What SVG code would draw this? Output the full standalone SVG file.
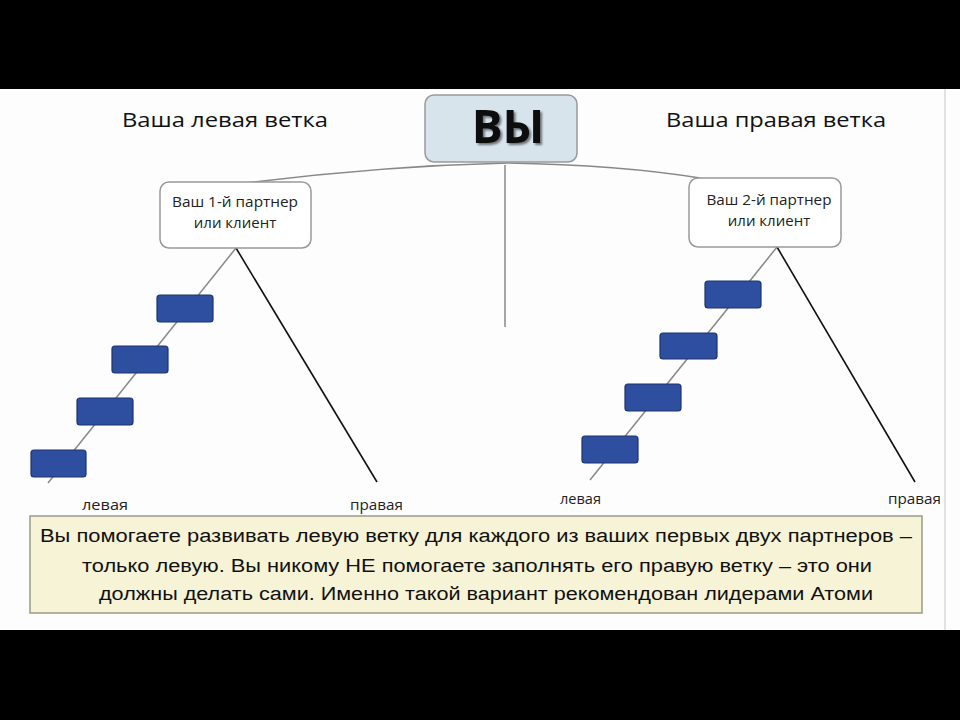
<svg xmlns="http://www.w3.org/2000/svg" width="960" height="720" viewBox="0 0 960 720">
<defs>
<filter id="sh" x="-10%" y="-10%" width="130%" height="130%"><feGaussianBlur in="SourceAlpha" stdDeviation="1.2"/><feOffset dx="2" dy="2"/><feComponentTransfer><feFuncA type="linear" slope="0.5"/></feComponentTransfer><feMerge><feMergeNode/><feMergeNode in="SourceGraphic"/></feMerge></filter>
</defs>
<style>
.t{font-family:"Open Sans","Liberation Sans",sans-serif;fill:#111}
.title{font-size:20px}
.ptxt{font-size:15px;fill:#222}
.lbl{font-size:14px;fill:#222}
.note{font-family:"Liberation Sans Narrow","Liberation Sans",sans-serif;font-size:18px;fill:#111}
.pbox{fill:#fff;stroke:#999;stroke-width:1.5}
.blue{fill:#2e4f9f;stroke:#1c336e;stroke-width:1.2}
.gl{stroke:#888;stroke-width:1.5;fill:none}
.bl{stroke:#111;stroke-width:1.6;fill:none}
</style>
<rect x="0" y="0" width="960" height="720" fill="#000"/>
<rect x="0" y="89" width="960" height="541" fill="#fdfdfd"/>
<line x1="945" y1="89" x2="945" y2="630" stroke="#e2e2e2" stroke-width="2"/>

<g id="connectors">
<path class="gl" d="M247,183 Q380,166 508,163 Q620,165 700,178"/>
<line class="gl" x1="505" y1="165" x2="505" y2="327"/>
<line class="gl" x1="236" y1="248" x2="48" y2="483"/>
<line class="bl" x1="236" y1="248" x2="377" y2="482"/>
<line class="gl" x1="777" y1="247" x2="590" y2="480"/>
<line class="bl" x1="777" y1="247" x2="915" y2="482"/>
</g>

<g id="you">
<rect x="425" y="95" width="152" height="67" rx="9" fill="#d8e4ec" stroke="#999" stroke-width="1.5"/>
<text class="t" x="508" y="143" text-anchor="middle" font-size="46" font-weight="bold" fill="#222" filter="url(#sh)">ВЫ</text>
</g>

<g id="title-left"><text class="t title" x="122" y="127" textLength="206" lengthAdjust="spacingAndGlyphs">Ваша левая ветка</text></g>
<g id="title-right"><text class="t title" x="666" y="127" textLength="220" lengthAdjust="spacingAndGlyphs">Ваша правая ветка</text></g>

<g id="partner1">
<rect class="pbox" x="160" y="182" width="151" height="66" rx="9"/>
<text class="t ptxt" x="235" y="207" text-anchor="middle" textLength="126" lengthAdjust="spacingAndGlyphs">Ваш 1-й партнер</text>
<text class="t ptxt" x="235" y="228" text-anchor="middle">или клиент</text>
</g>
<g id="partner2">
<rect class="pbox" x="689" y="178" width="152" height="69" rx="9"/>
<text class="t ptxt" x="769" y="205" text-anchor="middle" textLength="125" lengthAdjust="spacingAndGlyphs">Ваш 2-й партнер</text>
<text class="t ptxt" x="769" y="226" text-anchor="middle">или клиент</text>
</g>

<g id="l1"><rect class="blue" x="157" y="295" width="56" height="27" rx="3"/></g>
<g id="l2"><rect class="blue" x="112" y="346" width="56" height="27" rx="3"/></g>
<g id="l3"><rect class="blue" x="77" y="398" width="56" height="27" rx="3"/></g>
<g id="l4"><rect class="blue" x="31" y="450" width="55" height="27" rx="3"/></g>
<g id="r1"><rect class="blue" x="705" y="281" width="56" height="27" rx="3"/></g>
<g id="r2"><rect class="blue" x="660" y="333" width="57" height="26" rx="3"/></g>
<g id="r3"><rect class="blue" x="625" y="384" width="56" height="27" rx="3"/></g>
<g id="r4"><rect class="blue" x="582" y="436" width="56" height="27" rx="3"/></g>

<g id="labels">
<text class="t lbl" x="82" y="510" textLength="46" lengthAdjust="spacingAndGlyphs">левая</text>
<text class="t lbl" x="350" y="510" textLength="53" lengthAdjust="spacingAndGlyphs">правая</text>
<text class="t lbl" x="560" y="504" textLength="41" lengthAdjust="spacingAndGlyphs">левая</text>
<text class="t lbl" x="888" y="504" textLength="53" lengthAdjust="spacingAndGlyphs">правая</text>
</g>

<g id="note">
<rect x="30" y="516" width="892" height="97" fill="#f6f3d6" stroke="#9a9a86" stroke-width="1.5"/>
<text class="note" x="40" y="542" textLength="872" lengthAdjust="spacingAndGlyphs">Вы помогаете развивать левую ветку для каждого из ваших первых двух партнеров –</text>
<text class="note" x="82" y="572" textLength="790" lengthAdjust="spacingAndGlyphs">только левую. Вы никому НЕ помогаете заполнять его правую ветку – это они</text>
<text class="note" x="99" y="600" textLength="774" lengthAdjust="spacingAndGlyphs">должны делать сами. Именно такой вариант рекомендован лидерами Атоми</text>
</g>
</svg>
